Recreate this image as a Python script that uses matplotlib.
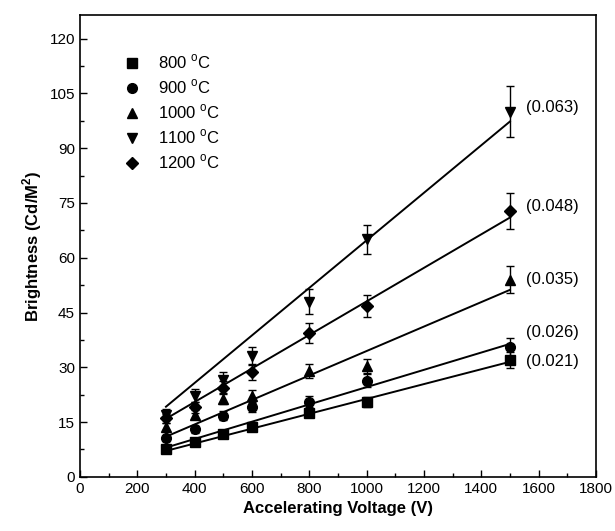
import numpy as np
import matplotlib
matplotlib.use("Agg")
import matplotlib.pyplot as plt
from matplotlib.ticker import MultipleLocator

plt.rcParams['font.family'] = ['Liberation Sans', 'DejaVu Sans']
plt.rcParams['mathtext.fontset'] = 'custom'
plt.rcParams['mathtext.rm'] = 'Liberation Sans'
plt.rcParams['mathtext.bf'] = 'Liberation Sans:bold'

# accelerating voltage (V)
voltage = [300, 400, 500, 600, 800, 1000, 1500]

# brightness per firing temperature
temps = ["800", "900", "1000", "1100", "1200"]
markers = ["s", "o", "^", "v", "D"]
b800 = [7.5, 9.6, 11.8, 13.7, 17.5, 20.5, 32.0]
b900 = [10.5, 13.0, 16.7, 19.0, 20.5, 26.3, 35.6]
b1000 = [13.7, 17.0, 21.4, 22.2, 29.0, 30.4, 54.0]
b1100 = [17.0, 22.2, 26.6, 33.0, 48.0, 65.0, 100.0]
b1200 = [16.0, 19.0, 24.4, 28.8, 39.4, 46.8, 72.8]

e800 = [0.6, 0.7, 0.8, 1.0, 1.2, 1.4, 2.2]
e900 = [0.8, 1.0, 1.2, 1.2, 1.5, 1.8, 2.5]
e1000 = [1.0, 1.2, 1.5, 1.6, 1.8, 2.0, 3.6]
e1100 = [1.5, 1.8, 2.2, 2.5, 3.3, 4.0, 7.0]
e1200 = [1.2, 1.5, 1.8, 2.2, 2.7, 3.0, 5.0]

# fitted line ends (at 300 V and 1500 V) and slope labels
fit_x = [300, 1500]
fit800 = [7.1, 31.5]
fit900 = [8.0, 36.4]
fit1000 = [11.0, 51.2]
fit1100 = [19.2, 97.3]
fit1200 = [15.9, 71.0]
slopes = ["(0.021)", "(0.026)", "(0.035)", "(0.063)", "(0.048)"]
slope_y = [31.5, 39.4, 54.0, 101.0, 74.0]

series = [b800, b900, b1000, b1100, b1200]
errors = [e800, e900, e1000, e1100, e1200]
fits = [fit800, fit900, fit1000, fit1100, fit1200]

fig = plt.figure(figsize=(6.15, 5.31), dpi=100)
ax = fig.add_axes([0.130, 0.102, 0.839, 0.870])

for t, m, y, e, f, s, sy in zip(temps, markers, series, errors, fits, slopes, slope_y):
    ms = 6 if m == "D" else 7
    ax.plot(fit_x, f, color="black", lw=1.4, zorder=2)
    ax.errorbar(voltage, y, yerr=e, fmt=m, color="black", ms=ms,
                ecolor="black", elinewidth=1.0, capsize=3, capthick=1.0,
                label=t + r" $^\mathregular{o}$C", zorder=3)
    ax.text(1555, sy, s, fontsize=12, va="center", ha="left")

ax.set_xlim(0, 1800)
ax.set_ylim(0, 126.5)
ax.xaxis.set_major_locator(MultipleLocator(200))
ax.xaxis.set_minor_locator(MultipleLocator(100))
ax.yaxis.set_major_locator(MultipleLocator(15))
ax.yaxis.set_minor_locator(MultipleLocator(7.5))
ax.tick_params(which="both", direction="in", labelsize=11, width=1.0)
ax.tick_params(which="major", length=5)
ax.tick_params(which="minor", length=3)
for sp in ax.spines.values():
    sp.set_linewidth(1.2)

ax.set_xlabel("Accelerating Voltage (V)", fontsize=12, fontweight="bold")
ax.set_ylabel(r"Brightness (Cd/M$^\mathbf{2}$)", fontsize=12, fontweight="bold")

handles, labels = ax.get_legend_handles_labels()
handles = [h[0] for h in handles]
ax.legend(handles, labels, loc="upper left", frameon=False, fontsize=12,
          handlelength=1.0, handletextpad=1.1, labelspacing=0.38,
          bbox_to_anchor=(0.055, 0.95))

fig.savefig("out.png", dpi=100)
